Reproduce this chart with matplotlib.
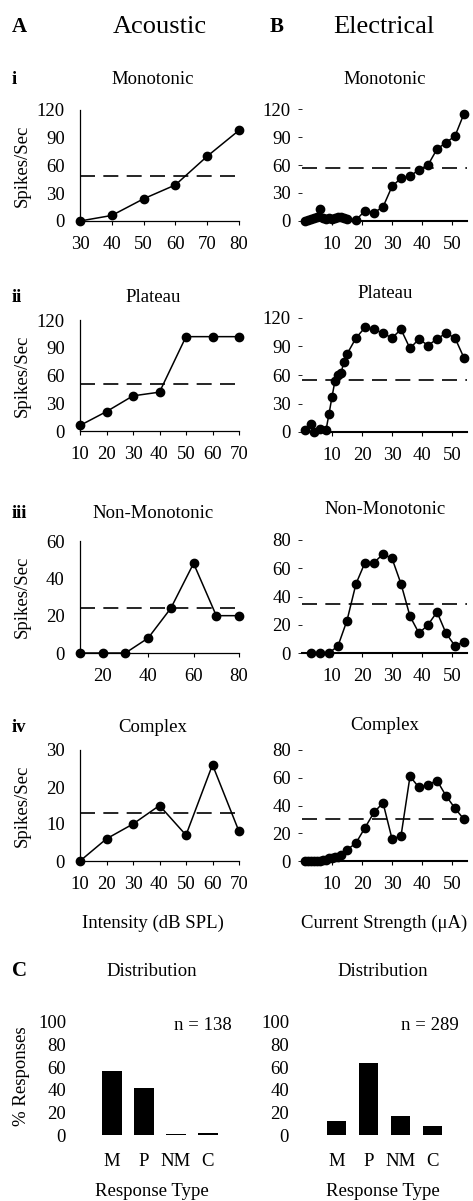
import matplotlib
matplotlib.use("Agg")
import matplotlib.pyplot as plt

plt.rcParams['font.family'] = ['Liberation Serif', 'DejaVu Serif']

W, H = 473, 1201

# ---------------- data ----------------
a_i_x = [30, 40, 50, 60, 70, 80]
a_i_y = [0, 6, 24, 39, 70, 98]
a_i_thr = 49

a_ii_x = [10, 20, 30, 40, 50, 60, 70]
a_ii_y = [6, 21, 38, 42, 102, 102, 102]
a_ii_thr = 51

a_iii_x = [10, 20, 30, 40, 50, 60, 70, 80]
a_iii_y = [0, 0, 0, 8, 24, 48, 20, 20]
a_iii_thr = 24

a_iv_x = [10, 20, 30, 40, 50, 60, 70]
a_iv_y = [0, 6, 10, 15, 7, 26, 8]
a_iv_thr = 13

b_i_x = [1, 2, 3, 4, 5, 6, 7, 8, 9, 10, 11, 12, 13, 14, 15, 18, 21, 24, 27,
         30, 33, 36, 39, 42, 45, 48, 51, 54]
b_i_y = [0, 1, 2, 3, 4, 13, 3, 2, 3, 2, 3, 4, 4, 3, 2, 1, 11, 9, 15,
         37, 46, 48, 55, 60, 77, 84, 91, 115]
b_i_thr = 57

b_ii_x = [1, 3, 4, 6, 8, 9, 10, 11, 12, 13, 14, 15, 18, 21, 24, 27, 30, 33,
          36, 39, 42, 45, 48, 51, 54]
b_ii_y = [2, 8, 0, 3, 2, 19, 37, 54, 60, 62, 74, 82, 99, 110, 108, 104, 99, 108,
          88, 98, 91, 98, 104, 99, 78]
b_ii_thr = 55

b_iii_x = [3, 6, 9, 12, 15, 18, 21, 24, 27, 30, 33, 36, 39, 42, 45, 48, 51, 54]
b_iii_y = [0, 0, 0, 5, 23, 49, 64, 64, 70, 67, 49, 26, 14, 20, 29, 14, 5, 8]
b_iii_thr = 35

b_iv_x = [1, 2, 3, 4, 5, 6, 7, 8, 9, 10, 11, 12, 13, 15, 18, 21, 24, 27, 30,
          33, 36, 39, 42, 45, 48, 51, 54]
b_iv_y = [0, 0, 0, 0, 0, 0, 1, 1, 2, 2, 3, 3, 4, 8, 13, 24, 35, 42, 16,
          18, 61, 53, 55, 58, 47, 38, 30]
b_iv_thr = 30

resp_types = ["M", "P", "NM", "C"]
acoustic_pct = [57, 42, 0.5, 1.5]
electrical_pct = [12, 64, 17, 8]
acoustic_n = "n = 138"
electrical_n = "n = 289"

row_titles = ["Monotonic", "Plateau", "Non-Monotonic", "Complex"]
row_marks = ["i", "ii", "iii", "iv"]

# ---------------- figure ----------------
fig = plt.figure(figsize=(W / 100, H / 100), dpi=100)

FS = 13.5


def px_axes(left, right, top, bottom):
    return fig.add_axes([left / W, 1 - bottom / H, (right - left) / W, (bottom - top) / H])


def ftext(x, y, s, **kw):
    fig.text(x / W, 1 - y / H, s, **kw)


def line_panel(ax, x, y, thr, xlim, ylim, yticks, xticks, acoustic):
    ax.plot(x, y, color='black', lw=1.1, marker='o', ms=6, clip_on=False, zorder=3)
    ax.axhline(thr, color='black', lw=1.2, ls=(0, (9, 5)), zorder=2)
    ax.set_xlim(*xlim)
    ax.set_ylim(*ylim)
    ax.set_yticks(yticks)
    ax.set_xticks(xticks)
    ax.spines['top'].set_visible(False)
    ax.spines['right'].set_visible(False)
    ax.set_facecolor('none')
    if acoustic:
        ax.spines['left'].set_linewidth(0.9)
        ax.spines['bottom'].set_linewidth(0.9)
        ax.tick_params(axis='y', length=0, pad=11, labelsize=FS)
    else:
        ax.spines['left'].set_visible(False)
        ax.spines['bottom'].set_linewidth(1.5)
        ax.tick_params(axis='y', length=3, width=0.6, pad=5, labelsize=FS)
    ax.tick_params(axis='x', length=3, width=0.8, pad=8, labelsize=FS)


# acoustic column
a_data = [(a_i_x, a_i_y, a_i_thr, (30, 80), (0, 120), [0, 30, 60, 90, 120], [30, 40, 50, 60, 70, 80], 110, 221),
          (a_ii_x, a_ii_y, a_ii_thr, (10, 70), (0, 120), [0, 30, 60, 90, 120], [10, 20, 30, 40, 50, 60, 70], 320, 431),
          (a_iii_x, a_iii_y, a_iii_thr, (10, 80), (0, 60), [0, 20, 40, 60], [20, 40, 60, 80], 541, 653),
          (a_iv_x, a_iv_y, a_iv_thr, (10, 70), (0, 30), [0, 10, 20, 30], [10, 20, 30, 40, 50, 60, 70], 750, 861)]
for (x, y, thr, xl, yl, yt, xt, top, bot) in a_data:
    ax = px_axes(80, 239, top, bot)
    line_panel(ax, x, y, thr, xl, yl, yt, xt, True)
    ftext(22, (top + bot) / 2, "Spikes/Sec", fontsize=FS, rotation=90, va='center', ha='center')

b_data = [(b_i_x, b_i_y, b_i_thr, (0, 120), [0, 30, 60, 90, 120], 109, 221),
          (b_ii_x, b_ii_y, b_ii_thr, (0, 120), [0, 30, 60, 90, 120], 318, 432),
          (b_iii_x, b_iii_y, b_iii_thr, (0, 80), [0, 20, 40, 60, 80], 540, 653),
          (b_iv_x, b_iv_y, b_iv_thr, (0, 80), [0, 20, 40, 60, 80], 750, 861)]
for (x, y, thr, yl, yt, top, bot) in b_data:
    ax = px_axes(302, 467, top, bot)
    line_panel(ax, x, y, thr, (0, 55), yl, yt, [10, 20, 30, 40, 50], False)

# headers
ftext(12, 27, "A", fontsize=15, fontweight='bold', va='center', ha='left')
ftext(160, 27, "Acoustic", fontsize=19, va='center', ha='center')
ftext(270, 27, "B", fontsize=15, fontweight='bold', va='center', ha='left')
ftext(384, 27, "Electrical", fontsize=19, va='center', ha='center')

row_y_a = [80, 297, 513, 727]
row_y_b = [80, 293, 510, 726]
for mark, title, ya, yb in zip(row_marks, row_titles, row_y_a, row_y_b):
    ftext(12, ya, mark, fontsize=FS, fontweight='bold', va='center', ha='left')
    ftext(153, ya, title, fontsize=FS, va='center', ha='center')
    ftext(385, yb, title, fontsize=FS, va='center', ha='center')

ftext(153, 923, "Intensity (dB SPL)", fontsize=FS, va='center', ha='center')
ftext(384, 923, "Current Strength (\u03bcA)", fontsize=FS, va='center', ha='center')

# distribution panels
ftext(12, 971, "C", fontsize=15, fontweight='bold', va='center', ha='left')


def bar_panel(left, right, xlim, vals, ntext, nx, cx):
    ax = px_axes(left, right, 1022, 1135)
    ax.bar(range(len(resp_types)), vals, width=0.6, color='black')
    ax.set_xlim(*xlim)
    ax.set_ylim(0, 100)
    ax.set_yticks([0, 20, 40, 60, 80, 100])
    ax.set_xticks(range(len(resp_types)))
    ax.set_xticklabels(resp_types)
    for s in ax.spines.values():
        s.set_visible(False)
    ax.set_facecolor('none')
    ax.tick_params(axis='y', length=0, pad=10, labelsize=FS)
    ax.tick_params(axis='x', length=0, pad=13, labelsize=FS)
    ftext(nx, 1025, ntext, fontsize=FS, va='center', ha='center')
    ftext(cx, 971, "Distribution", fontsize=FS, va='center', ha='center')
    ftext(cx, 1192, "Response Type", fontsize=FS, va='center', ha='center')
    return ax


bar_panel(80, 240, (-1, 4), acoustic_pct, acoustic_n, 203, 152)
bar_panel(303, 463, (-1.07, 3.97), electrical_pct, electrical_n, 430, 383)
ftext(22, 1076, "% Responses", fontsize=FS, rotation=90, va='center', ha='center')

fig.savefig("out.png", dpi=100)
